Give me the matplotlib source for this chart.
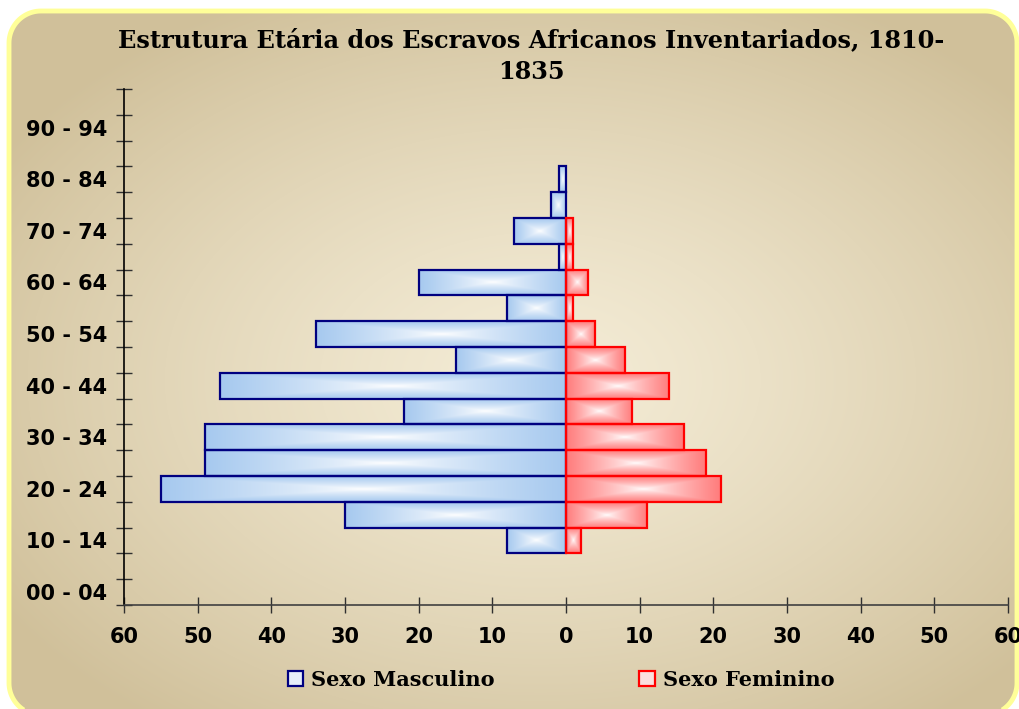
"""
Pirâmide etária dos escravos africanos inventariados, 1810-1835.
"""

import matplotlib
import matplotlib.pyplot as plt
import numpy as np
from matplotlib.patches import Patch, Polygon

matplotlib.use("Agg")

# Age groups (bottom to top), only every other one is labelled
age_groups = [f"{a:02d} - {a + 4:02d}" for a in range(0, 100, 5)]
tick_labels = [g if i % 2 == 0 else "" for i, g in enumerate(age_groups)]

# Counts
male = [0, 0, 8, 30, 55, 49, 49, 22, 47, 15, 34, 8, 20, 1, 7, 2, 1, 0, 0, 0]
female = [0, 0, 2, 11, 21, 19, 16, 9, 14, 8, 4, 1, 3, 1, 1, 0, 0, 0, 0, 0]

x_ticks = list(range(-60, 61, 10))

W, H = 1019, 709
fig = plt.figure(figsize=(W / 100, H / 100), dpi=100)
fig.patch.set_facecolor("white")


def rounded_rect(x0, y0, x1, y1, rad, n=24):
    # polygon (no bezier curves) so clipping at the canvas edge stays clean
    pts = []
    for cx, cy, a0 in ((x1 - rad, y1 - rad, 0), (x0 + rad, y1 - rad, 90),
                       (x0 + rad, y0 + rad, 180), (x1 - rad, y0 + rad, 270)):
        a = np.radians(np.linspace(a0, a0 + 90, n))
        pts.extend(zip(cx + rad * np.cos(a), cy + rad * np.sin(a)))
    return np.array(pts)


# Background: rounded panel with radial gradient and yellow border
bg = fig.add_axes([0, 0, 1, 1], zorder=-5)
bg.axis("off")
yy, xx = np.mgrid[0:H, 0:W]
r = np.sqrt(((xx - 540) / 640.0) ** 2 + ((yy - 380) / 430.0) ** 2)
r = np.clip(r, 0, 1) ** 1.3
c_in = np.array([244, 236, 214]) / 255.0
c_out = np.array([208, 192, 154]) / 255.0
img = c_in[None, None, :] * (1 - r[..., None]) + c_out[None, None, :] * r[..., None]
panel = Polygon(rounded_rect(9, -6, 1017, H - 11, 32), closed=True, facecolor="none",
                edgecolor="#FFFF99", linewidth=3.5, zorder=3)
bg.add_patch(panel)
im = bg.imshow(img, extent=[0, W, 0, H], origin="upper", zorder=1, aspect="auto")
im.set_clip_path(panel)
bg.set_xlim(0, W)
bg.set_ylim(0, H)

# Main axes
ax = fig.add_axes([124 / W, 1 - 605 / H, (1008 - 124) / W, (605 - 89) / H])
ax.set_facecolor("none")

y = np.arange(len(age_groups))
neg_male = [-v for v in male]
bars_m = ax.barh(y, neg_male, height=1.0, facecolor="none", edgecolor="#000080",
                 linewidth=1.6, zorder=3)
bars_f = ax.barh(y, female, height=1.0, facecolor="none", edgecolor="#FF0000",
                 linewidth=1.6, zorder=3)


def box_gradient(base, n=60, m=200):
    v, u = np.mgrid[-1:1:n * 1j, -1:1:m * 1j]
    t = np.maximum(np.abs(u), np.abs(v)) ** 0.8
    base = np.array(matplotlib.colors.to_rgb(base))
    return np.ones(3)[None, None, :] * (1 - t[..., None]) + base[None, None, :] * t[..., None]


grad_m = box_gradient("#A6C9EF")
grad_f = box_gradient("#FF7C7C")
for bars, grad in ((bars_m, grad_m), (bars_f, grad_f)):
    for rect in bars:
        if rect.get_width() == 0:
            rect.set_visible(False)
            continue
        x0, y0 = rect.get_x(), rect.get_y()
        x1, y1 = x0 + rect.get_width(), y0 + rect.get_height()
        ax.imshow(grad, extent=[min(x0, x1), max(x0, x1), y0, y1], aspect="auto",
                  interpolation="bilinear", zorder=2)

ax.set_xlim(-60, 60)
ax.set_ylim(-0.5, len(age_groups) - 0.5)

# Axes styling
for side in ("top", "right"):
    ax.spines[side].set_visible(False)
ax.spines["left"].set_color("black")
ax.spines["bottom"].set_color("#404040")
ax.spines["left"].set_linewidth(1.2)
ax.spines["bottom"].set_linewidth(1.2)

ax.set_yticks(y)
ax.set_yticklabels(tick_labels)
ax.set_yticks(np.arange(-0.5, len(age_groups), 1.0), minor=True)
ax.tick_params(axis="y", which="major", length=0, pad=12)
ax.tick_params(axis="y", which="minor", direction="inout", length=12, width=1.0,
               color="#303030")
ax.set_xticks(x_ticks)
ax.set_xticklabels([str(abs(v)) for v in x_ticks])
ax.tick_params(axis="x", direction="inout", length=11, width=1.0, color="#303030", pad=10)
for lab in ax.get_xticklabels() + ax.get_yticklabels():
    lab.set_fontfamily("DejaVu Sans")
    lab.set_fontweight("bold")
    lab.set_fontsize(15)

fig.text(531 / W, 1 - 40 / H, "Estrutura Etária dos Escravos Africanos Inventariados, 1810-",
         ha="center", va="center", fontsize=17.3, fontweight="bold",
         fontfamily="DejaVu Serif")
fig.text(531 / W, 1 - 72 / H, "1835", ha="center", va="center", fontsize=17.3,
         fontweight="bold", fontfamily="DejaVu Serif")

handles = [Patch(facecolor="#E6EEFA", edgecolor="#000080", linewidth=1.6, label="Sexo Masculino"),
           Patch(facecolor="#FBE0E0", edgecolor="#FF0000", linewidth=1.6, label="Sexo Feminino")]
fig.legend(handles=handles, loc="center", bbox_to_anchor=(561 / W, 1 - 680 / H), ncol=2,
           frameon=False, handlelength=0.75, handleheight=0.75, handletextpad=0.4,
           columnspacing=6.9, prop={"family": "DejaVu Serif", "weight": "bold", "size": 15})

fig.savefig("out.png", dpi=100)
plt.close(fig)
